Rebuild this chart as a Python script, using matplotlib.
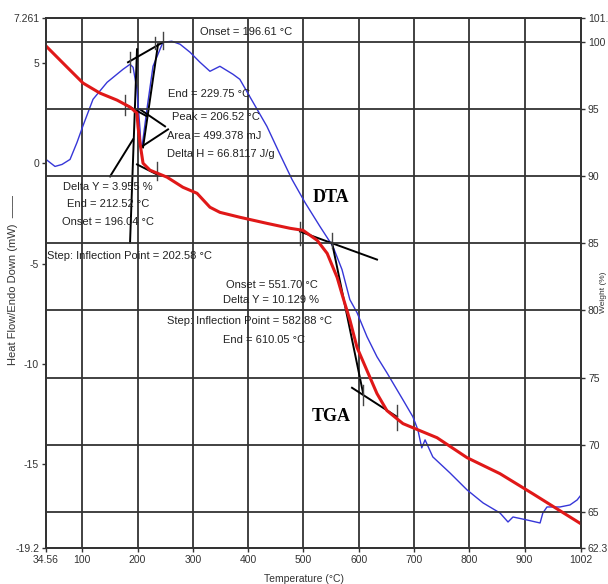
import matplotlib
matplotlib.use("Agg")
import matplotlib.pyplot as plt

# DTA curve (left axis, mW)
dta_temp = [34.56, 50.8, 63.5, 78, 90.6, 101, 119.5, 145, 173.8, 186.5, 192, 199, 204.5, 206.4,
            208.5, 217, 228, 246, 262, 277, 295, 313, 331, 349, 372.7, 385, 409, 434, 457.7,
            479.4, 502.9, 530, 553.5, 569.8, 584, 597, 615, 633, 651, 680, 698, 707, 714, 720,
            734, 765, 796, 825, 855.5, 870, 879, 904.4, 928, 933, 940.5, 964, 982, 995, 1002]
dta_heat = [0.2, -0.15, -0.05, 0.2, 1.05, 1.85, 3.2, 4.05, 4.7, 4.95, 4.8, 3.7, 1.7, 0.8,
            0.9, 2.7, 4.85, 6.05, 6.1, 5.95, 5.55, 5.05, 4.6, 4.85, 4.45, 4.2, 3.05, 1.85, 0.45,
            -0.8, -1.95, -3.15, -4.15, -5.3, -6.8, -7.45, -8.65, -9.65, -10.45, -11.8, -12.65, -13.3, -14.2, -13.8,
            -14.65, -15.45, -16.3, -16.95, -17.45, -17.9, -17.65, -17.8, -17.95, -17.45, -17.15, -17.15, -17.05, -16.8, -16.55]

# TGA curve (right axis, %)
tga_temp = [34.56, 72.5, 101.5, 132.2, 163, 186.5, 199, 201, 204.5, 210, 222.6, 253.4, 282,
            307.6, 331, 349, 385.4, 434, 476, 499.3, 525, 543, 561, 571.6, 584.3, 597, 615,
            633, 651, 680, 711, 741.6, 796, 855.5, 915, 1002]
tga_weight = [99.7, 98.13, 96.94, 96.19, 95.67, 95.15, 94.7, 93.66, 92.46, 90.97, 90.45, 89.93, 89.18,
              88.73, 87.69, 87.31, 86.94, 86.49, 86.12, 85.97, 85.22, 84.25, 82.46, 80.97, 79.25, 77.24, 75.52,
              73.81, 72.54, 71.57, 71.04, 70.52, 69.03, 67.84, 66.34, 64.1]

# tangent / leader lines (temperature pairs, heat-flow pairs)
tangent_x = [(182.8, 246.1), (237.1, 210), (199.1, 186.5), (177.4, 217.2), (199.1, 235.3),
             (204.5, 249.8), (208.2, 255.2), (150.3, 191.9),
             (493.9, 633.1), (551.7, 607.8), (587.9, 669.3)]
tangent_y = [(5.05, 6.05), (5.95, 0.8), (5.7, -3.95), (2.95, 2.35), (-0.05, -0.55),
             (2.7, 1.85), (0.85, 1.7), (-0.65, 1.2),
             (-3.4, -4.8), (-3.95, -11.45), (-11.2, -12.65)]
marker_x = [186.5, 231.7, 246.1, 177.4, 235.3, 493.9, 551.7, 607.8, 669.3]
marker_y = [(4.55, 5.55), (5.7, 6.3), (5.7, 6.55), (2.4, 3.4), (-0.85, 0.05),
            (-4.05, -2.9), (-4.2, -3.45), (-12.05, -11.05), (-13.3, -12.05)]

labels = ["Onset = 196.61 °C", "End = 229.75 °C", "Peak = 206.52 °C", "Area = 499.378 mJ",
          "Delta H = 66.8117 J/g", "Delta Y = 3.955 %", "End = 212.52 °C", "Onset = 196.04 °C",
          "Step: Inflection Point = 202.58 °C", "Onset = 551.70 °C", "Delta Y = 10.129 %",
          "Step: Inflection Point = 582.88 °C", "End = 610.05 °C"]
label_x = [313, 255.2, 262.4, 253.4, 253.4, 146.7, 146.7, 146.7, 36.4, 443.2, 441.4, 403.5, 428.8]
label_y = [6.55, 3.45, 2.3, 1.35, 0.45, -1.2, -2.05, -2.9, -4.6, -6.05, -6.8, -7.85, -8.8]
label_ha = ["left"] * 5 + ["center"] * 3 + ["left"] + ["center"] * 4

x_ticks = [34.56, 100, 200, 300, 400, 500, 600, 700, 800, 900, 1002]
x_ticklabels = ["34.56", "100", "200", "300", "400", "500", "600", "700", "800", "900", "1002"]
left_ticks = [7.261, 5, 0, -5, -10, -15, -19.2]
left_ticklabels = ["7.261", "5", "0", "-5", "-10", "-15", "-19.2"]
right_ticks = [101.79, 100, 95, 90, 85, 80, 75, 70, 65, 62.3]
right_ticklabels = ["101.7", "100", "95", "90", "85", "80", "75", "70", "65", "62.3"]

plt.rcParams["font.family"] = ["Liberation Sans", "DejaVu Sans"]

fig = plt.figure(figsize=(6.08, 5.84), dpi=100)
ax = fig.add_axes([0.0757, 0.0616, 0.8799, 0.9076])
ax2 = ax.twinx()

ax.plot(dta_temp, dta_heat, color="#3636d8", lw=1.0)
ax2.plot(tga_temp, tga_weight, color="#e01818", lw=2.2)

for xs, ys in zip(tangent_x, tangent_y):
    ax.plot(xs, ys, color="black", lw=1.4)
for mx, my in zip(marker_x, marker_y):
    ax.plot([mx, mx], my, color="#444444", lw=1.0)

for t, x, y, ha in zip(labels, label_x, label_y, label_ha):
    ax.text(x, y, t, ha=ha, va="center", fontsize=8, color="#222222")

ax.text(550, -1.7, "DTA", ha="center", va="center", fontsize=13, fontweight="bold",
        family=["Liberation Serif", "DejaVu Serif"])
ax.text(550, -12.65, "TGA", ha="center", va="center", fontsize=13, fontweight="bold",
        family=["Liberation Serif", "DejaVu Serif"])

ax.set_xlim(34.56, 1002)
ax.set_ylim(-19.2, 7.261)
ax2.set_ylim(62.3, 101.79)

ax.set_xticks(x_ticks)
ax.set_xticklabels(x_ticklabels)
ax.set_yticks(left_ticks)
ax.set_yticklabels(left_ticklabels)
ax2.set_yticks(right_ticks)
ax2.set_yticklabels(right_ticklabels)

ax.grid(axis="x", color="#333333", lw=1.3)
ax2.grid(axis="y", color="#333333", lw=1.3)
for a in (ax, ax2):
    a.tick_params(labelsize=7.5, length=3, width=1, colors="#333333", pad=2)
    for s in a.spines.values():
        s.set_color("#333333")
        s.set_linewidth(1.3)

fig.text(0.021, 0.52, "Heat Flow/Endo Down (mW)  ——", rotation=90, ha="center", va="center",
         fontsize=8, color="#333333")
fig.text(0.5, 0.009, "Temperature (°C)", ha="center", va="center", fontsize=7.5, color="#333333")
fig.text(0.993, 0.5, "Weight (%)", rotation=90, ha="center", va="center", fontsize=6, color="#333333")

fig.savefig("out.png", dpi=100, facecolor="white")
